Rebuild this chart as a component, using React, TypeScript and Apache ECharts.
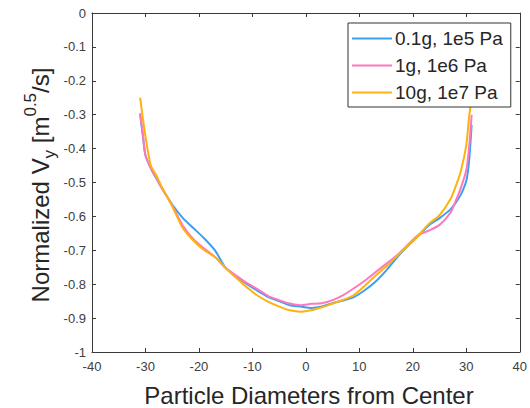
import React, { useEffect, useRef } from "react";
import * as echarts from "echarts";

const xValues = [-31, -30.5, -30, -29, -28, -27, -25, -23, -21, -19, -17, -15, -13, -11, -9, -7, -5, -3, -1, 1, 3, 5, 7, 9, 11, 13, 15, 17, 19, 21, 23, 25, 27, 28, 29, 30, 30.5, 31];

const series01g = [-0.30, -0.36, -0.42, -0.458, -0.487, -0.515, -0.565, -0.605, -0.635, -0.665, -0.70, -0.752, -0.777, -0.80, -0.82, -0.838, -0.85, -0.862, -0.866, -0.87, -0.866, -0.856, -0.848, -0.838, -0.818, -0.793, -0.76, -0.722, -0.688, -0.658, -0.626, -0.605, -0.58, -0.56, -0.535, -0.495, -0.44, -0.33];
const series1g = [-0.295, -0.357, -0.42, -0.458, -0.485, -0.515, -0.568, -0.628, -0.668, -0.695, -0.72, -0.752, -0.775, -0.797, -0.815, -0.835, -0.847, -0.857, -0.862, -0.858, -0.856, -0.847, -0.832, -0.812, -0.79, -0.765, -0.74, -0.715, -0.685, -0.655, -0.642, -0.625, -0.59, -0.555, -0.515, -0.463, -0.40, -0.30];
const series10g = [-0.25, -0.31, -0.365, -0.45, -0.478, -0.512, -0.57, -0.635, -0.672, -0.70, -0.72, -0.752, -0.782, -0.81, -0.834, -0.852, -0.866, -0.877, -0.881, -0.877, -0.868, -0.857, -0.846, -0.832, -0.805, -0.775, -0.748, -0.718, -0.688, -0.657, -0.622, -0.596, -0.55, -0.512, -0.465, -0.39, -0.31, -0.25];

const seriesNames = ["0.1g, 1e5 Pa", "1g, 1e6 Pa", "10g, 1e7 Pa"];
const seriesColors = ["#3d9ff0", "#ff77bd", "#ffb20f"];

const xTicks = { min: -40, max: 40, interval: 10 };
const yTicks = { min: -1, max: 0, interval: 0.1 };

const FONT = "'Liberation Sans', Arial, Helvetica, sans-serif";
const AXIS_COLOR = "#3a3a3a";

export default function App() {
  const ref = useRef<HTMLDivElement>(null);
  useEffect(() => {
    if (!ref.current) return;
    const chart = echarts.init(ref.current, undefined, { renderer: "svg" });
    const allSeries = [series01g, series1g, series10g];
    const grid = { left: 92, right: 4, top: 13, bottom: 56 };
    const axisCommon = {
      axisLine: { show: true, onZero: false, lineStyle: { color: AXIS_COLOR, width: 1 } },
      axisTick: { show: true, inside: true, length: 4, lineStyle: { color: AXIS_COLOR } },
      splitLine: { show: false },
    };
    chart.setOption({
      animation: false,
      backgroundColor: "#ffffff",
      grid,
      xAxis: [
        {
          type: "value",
          position: "bottom",
          min: xTicks.min,
          max: xTicks.max,
          interval: xTicks.interval,
          ...axisCommon,
          axisLabel: { color: "#404040", fontSize: 13, fontFamily: FONT, margin: 8 },
        },
        {
          type: "value",
          position: "top",
          min: xTicks.min,
          max: xTicks.max,
          interval: xTicks.interval,
          ...axisCommon,
          axisLabel: { show: false },
        },
      ],
      yAxis: [
        {
          type: "value",
          position: "left",
          min: yTicks.min,
          max: yTicks.max,
          interval: yTicks.interval,
          ...axisCommon,
          axisLabel: {
            color: "#404040",
            fontSize: 13,
            fontFamily: FONT,
            margin: 6,
            formatter: (v: number) => {
              const r = Math.round(v * 10) / 10;
              if (r === 0) return "0";
              if (r === -1) return "-1";
              return r.toFixed(1);
            },
          },
        },
        {
          type: "value",
          position: "right",
          min: yTicks.min,
          max: yTicks.max,
          interval: yTicks.interval,
          ...axisCommon,
          axisLabel: { show: false },
        },
      ],
      legend: {
        show: true,
        orient: "vertical",
        left: 348,
        top: 23,
        padding: [6, 8, 5, 4],
        itemGap: 8,
        itemWidth: 40,
        itemHeight: 2,
        icon: "rect",
        z: 10,
        backgroundColor: "#ffffff",
        borderColor: "#333333",
        borderWidth: 1,
        borderRadius: 0,
        textStyle: { fontSize: 19, color: "#262626", fontFamily: FONT, padding: [0, 0, 0, -2] },
        data: seriesNames,
      },
      series: allSeries.map((vals, i) => ({
        name: seriesNames[i],
        type: "line",
        showSymbol: false,
        symbol: "none",
        smooth: 0.25,
        color: seriesColors[i],
        lineStyle: { color: seriesColors[i], width: 2 },
        data: xValues.map((x, j) => [x, vals[j]]),
      })),
      graphic: [
        {
          type: "text",
          x: 309,
          y: 395,
          style: {
            text: "Particle Diameters from Center",
            fontSize: 24,
            fontFamily: FONT,
            fill: "#262626",
            textAlign: "center",
            textVerticalAlign: "middle",
          },
        },
        {
          type: "text",
          x: 40,
          y: 185,
          rotation: Math.PI / 2,
          style: {
            text: "Normalized V{sub|y} [m{sup|0.5}/s]",
            fontSize: 24,
            lineHeight: 36,
            fontFamily: FONT,
            fill: "#262626",
            textAlign: "center",
            textVerticalAlign: "middle",
            rich: {
              sub: { fontSize: 17, fontFamily: FONT, fill: "#262626", verticalAlign: "bottom", lineHeight: 17 },
              sup: { fontSize: 17, fontFamily: FONT, fill: "#262626", verticalAlign: "top", lineHeight: 17 },
            },
          },
        },
      ],
    });
    return () => chart.dispose();
  }, []);
  return (
    <div
      ref={ref}
      style={{ position: "absolute", left: 0, top: 0, width: 530, height: 408 }}
    />
  );
}
